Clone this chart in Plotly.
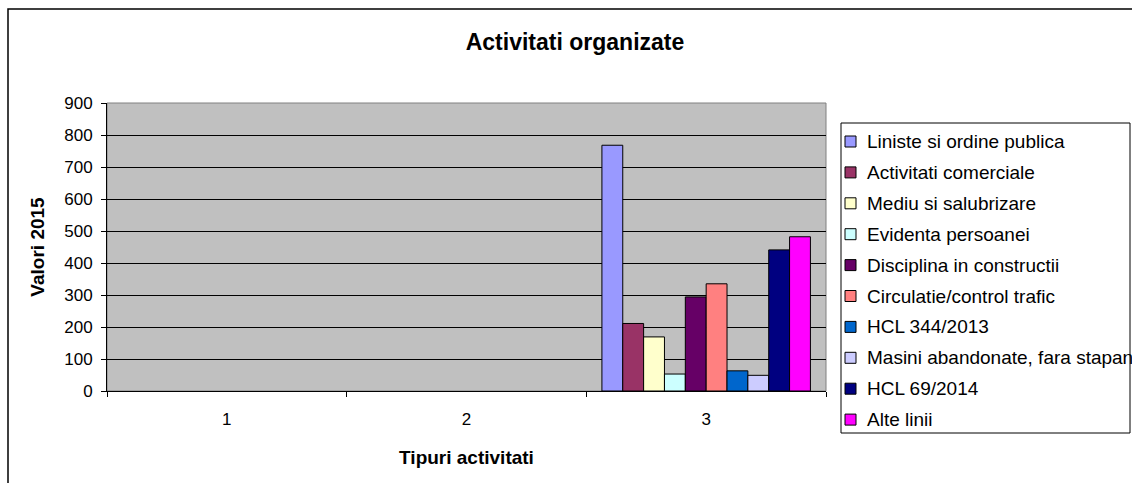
import plotly.graph_objects as go

categories = ["1", "2", "3"]
series_names = [
    "Liniste si ordine publica",
    "Activitati comerciale",
    "Mediu si salubrizare",
    "Evidenta persoanei",
    "Disciplina in constructii",
    "Circulatie/control trafic",
    "HCL 344/2013",
    "Masini abandonate, fara stapan",
    "HCL 69/2014",
    "Alte linii",
]
liniste = [None, None, 768]
comerciale = [None, None, 211]
mediu = [None, None, 169]
evidenta = [None, None, 53]
disciplina = [None, None, 294]
circulatie = [None, None, 335]
hcl344 = [None, None, 63]
masini = [None, None, 49]
hcl69 = [None, None, 441]
alte = [None, None, 482]
series_values = [liniste, comerciale, mediu, evidenta, disciplina,
                 circulatie, hcl344, masini, hcl69, alte]
colors = ["#9999FF", "#993366", "#FFFFCC", "#CCFFFF", "#660066",
          "#FF8080", "#0066CC", "#CCCCFF", "#000080", "#FF00FF"]
y_ticks = [0, 100, 200, 300, 400, 500, 600, 700, 800, 900]

FONT = "Arial, Liberation Sans, sans-serif"
W, H = 1132, 483
# plot area in page pixels
L0, R0, T0, B0 = 107, 826, 103, 391
PW, PH = R0 - L0, B0 - T0


def px(x):
    return (x - L0) / PW


def py(y):
    return (B0 - y) / PH


fig = go.Figure()
for name, vals, col in zip(series_names, series_values, colors):
    fig.add_trace(go.Bar(
        x=categories, y=vals, name=name, showlegend=False,
        marker=dict(color=col, line=dict(color="black", width=1)),
    ))

fig.update_layout(
    width=W, height=H,
    margin=dict(l=L0, r=W - R0, t=T0, b=H - B0, pad=0, autoexpand=False),
    paper_bgcolor="white",
    plot_bgcolor="#C0C0C0",
    font=dict(family=FONT, size=17, color="black"),
    title=dict(text="<b>Activitati organizate</b>", x=575 / W, xanchor="center",
               y=1 - 42 / H, yanchor="middle",
               font=dict(size=23, family=FONT, color="black")),
    barmode="group",
    bargap=0.13,
    bargroupgap=0,
    showlegend=False,
    xaxis=dict(
        type="category", categoryorder="array", categoryarray=categories,
        showline=True, linecolor="black", linewidth=1,
        ticks="outside", tickson="boundaries", ticklen=5, tickcolor="black",
        showgrid=False, tickfont=dict(size=17, family=FONT),
        ticklabelstandoff=13,
        title=dict(text="<b>Tipuri activitati</b>", font=dict(size=19, family=FONT), standoff=22),
    ),
    yaxis=dict(
        range=[0, 900], tickvals=y_ticks,
        showline=True, linecolor="black", linewidth=1,
        ticks="outside", ticklen=5, tickcolor="black",
        showgrid=True, gridcolor="black", gridwidth=1,
        zeroline=False, tickfont=dict(size=17, family=FONT),
        ticklabelstandoff=5,
        title=dict(text="<b>Valori 2015</b>", font=dict(size=19, family=FONT), standoff=14),
    ),
)

# plot area border (gray) and outer chart border
fig.add_shape(type="rect", xref="paper", yref="paper", x0=0, y0=0, x1=1, y1=1,
              line=dict(color="#808080", width=1), layer="below")
fig.add_shape(type="rect", xref="paper", yref="paper",
              x0=px(8), y0=py(600), x1=px(1400), y1=py(9),
              line=dict(color="black", width=1.5))

# legend box drawn as shapes + annotations
fig.add_shape(type="rect", xref="paper", yref="paper",
              x0=px(841), y0=py(433), x1=px(1130), y1=py(123),
              line=dict(color="black", width=1), fillcolor="white")
first_y, step = 141.5, 30.9
for i, (name, col) in enumerate(zip(series_names, colors)):
    cy = first_y + i * step
    fig.add_shape(type="rect", xref="paper", yref="paper",
                  x0=px(845), x1=px(856), y0=py(cy + 5.5), y1=py(cy - 5.5),
                  line=dict(color="black", width=1), fillcolor=col)
    fig.add_annotation(xref="paper", yref="paper", x=px(865), y=py(cy),
                       xanchor="left", yanchor="middle", showarrow=False,
                       text=name, font=dict(size=19, family=FONT, color="black"))

fig.write_html(
    "out.html",
    config={"displayModeBar": False},
    post_script="document.body.style.margin='0';document.body.style.overflow='hidden';",
)
